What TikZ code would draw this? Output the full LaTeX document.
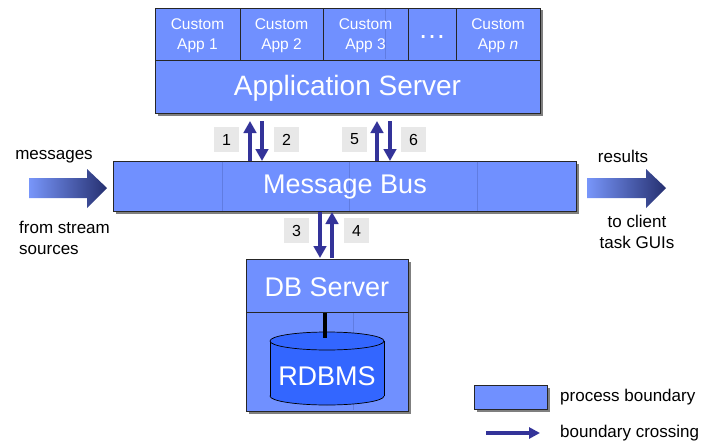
\documentclass[tikz,border=0pt]{standalone}
\usepackage{fontspec}
\setmainfont{Liberation Sans}
\usetikzlibrary{arrows.meta,shadows}
\definecolor{boxblue}{RGB}{112,144,255}
\definecolor{dbblue}{RGB}{51,102,255}
\definecolor{arrowblue}{RGB}{51,51,153}
\definecolor{labelgray}{RGB}{232,232,232}
\definecolor{gradlight}{RGB}{120,150,250}
\definecolor{graddark}{RGB}{38,48,112}
\definecolor{faint}{RGB}{96,124,225}
\tikzset{
  procbox/.style={draw=black!85, line width=0.8pt, fill=boxblue, inner sep=0pt, text=white},
  shadowed/.style={drop shadow={shadow xshift=2.5pt, shadow yshift=-2.5pt, opacity=0.5, fill=black}},
  cell/.style={draw=black!85, line width=0.8pt, fill=boxblue, inner sep=0pt, minimum height=52pt},
  celltext/.style={inner sep=0pt, text=white, align=center, font=\fontsize{15.5}{20}\selectfont},
  numlabel/.style={fill=labelgray, minimum size=25pt, inner sep=0pt, font=\fontsize{16}{16}\selectfont},
  crossing/.style={draw=arrowblue, line width=3.6pt, -{Triangle[width=12.5pt,length=12pt]}},
  sidetext/.style={inner sep=0pt, font=\fontsize{17}{21}\selectfont},
  bigtext/.style={inner sep=0pt, text=white, font=\fontsize{27}{27}\selectfont},
  fainted/.style={draw=faint, line width=0.4pt}
}
\begin{document}
\begin{tikzpicture}[x=1pt,y=-1pt]
\useasboundingbox (0,0) rectangle (709,444);

% Application server
\node[procbox, shadowed, minimum width=385pt, minimum height=105pt] (appsrv) at (347.5,60.5) {};
\node[cell, minimum width=85pt] (app1) at (197.5,34) {};
\node[cell, minimum width=83pt] (app2) at (281.5,34) {};
\node[cell, minimum width=85pt] (app3) at (365.5,34) {};
\node[cell, minimum width=48pt] (appdots) at (432,34) {};
\node[cell, minimum width=84pt] (appn) at (498,34) {};
\draw[fainted] (385,9) -- (385,59);
\node[celltext] (app1 text) at (197.5,36) {Custom\\App 1};
\node[celltext] (app2 text) at (281.5,36) {Custom\\App 2};
\node[celltext] (app3 text) at (365.5,36) {Custom\\App 3};
\node[celltext] (appn text) at (498,36) {Custom\\App \textit{n}};
\node[inner sep=0pt, anchor=base, text=white, font=\fontsize{28}{28}\selectfont] (dots) at (432,38) {…};
\node[bigtext, font=\fontsize{28}{28}\selectfont] (apptext) at (347.5,88) {Application Server};

% Message bus
\node[procbox, shadowed, minimum width=463pt, minimum height=50pt] (bus) at (344.5,186) {};
\draw[fainted] (222,161.5) -- (222,210.5);
\draw[fainted] (349,161.5) -- (349,210.5);
\draw[fainted] (477,161.5) -- (477,210.5);
\node[bigtext] (bustext) at (345,187) {Message Bus};

% DB server
\node[procbox, shadowed, minimum width=162pt, minimum height=152pt] (db) at (327,335) {};
\draw[fainted] (353,313) -- (353,410);
\node[procbox, minimum width=162pt, minimum height=53pt] (dbsrv) at (327,285.5) {};
\node[bigtext] (dbtext) at (327,287) {DB Server};

% cylinder
\fill[dbblue, draw=black, line width=0.7pt] (327,396) ellipse[x radius=57, y radius=9];
\fill[dbblue] (270,341) rectangle (384,396);
\draw[black, line width=0.7pt] (270,341) -- (270,396) (384,341) -- (384,396);
\fill[dbblue, draw=black, line width=0.7pt] (327,341) ellipse[x radius=57, y radius=9];
\coordinate (cyltop) at (325,338);
\coordinate (dblink) at (325,312.5);
\draw[black, line width=4pt] (dblink) -- (cyltop);
\node[bigtext] (rdbms) at (327,376) {RDBMS};

% crossing arrows
\coordinate (a1s) at (250,161); \coordinate (a1e) at (250,121);
\coordinate (a2s) at (262,121); \coordinate (a2e) at (262,161);
\coordinate (a5s) at (377,161); \coordinate (a5e) at (377,121);
\coordinate (a6s) at (390,121); \coordinate (a6e) at (390,161);
\coordinate (a3s) at (320,212); \coordinate (a3e) at (320,258);
\coordinate (a4s) at (332,258); \coordinate (a4e) at (332,212);
\draw[crossing] (a1s) -- (a1e);
\draw[crossing] (a2s) -- (a2e);
\draw[crossing] (a5s) -- (a5e);
\draw[crossing] (a6s) -- (a6e);
\draw[crossing] (a3s) -- (a3e);
\draw[crossing] (a4s) -- (a4e);

\node[numlabel] (l1) at (226.5,139.5) {1};
\node[numlabel] (l2) at (286.5,139.5) {2};
\node[numlabel] (l5) at (354.5,139.5) {5};
\node[numlabel] (l6) at (413.5,139.5) {6};
\node[numlabel] (l3) at (296.5,230.5) {3};
\node[numlabel] (l4) at (356.5,230.5) {4};

% input / output arrows
\shade[left color=gradlight, right color=graddark]
  (29,178) -- (87,178) -- (87,169) -- (107,188) -- (87,208) -- (87,198) -- (29,198) -- cycle;
\shade[left color=gradlight, right color=graddark]
  (587,178) -- (646,178) -- (646,169) -- (666,188) -- (646,208) -- (646,198) -- (587,198) -- cycle;

\node[sidetext] (msgs) at (54,157) {messages};
\node[sidetext, anchor=north west, align=left] (from) at (19,221) {from stream\\sources};
\node[sidetext] (results) at (623,156) {results};
\node[sidetext, anchor=north, align=center] (toclient) at (637,215) {to client\\task GUIs};

% legend
\node[procbox, shadowed, minimum width=73pt, minimum height=24pt] (legbox) at (510.5,397) {};
\node[sidetext, anchor=west] (legbox text) at (560,397) {process boundary};
\coordinate (legas) at (486,433);
\coordinate (lagae) at (540,433);
\draw[draw=arrowblue, line width=3.2pt, -{Triangle[width=11pt,length=11pt]}] (legas) -- (lagae);
\node[sidetext, anchor=west] (legarrow text) at (560,433) {boundary crossing};
\end{tikzpicture}
\end{document}
